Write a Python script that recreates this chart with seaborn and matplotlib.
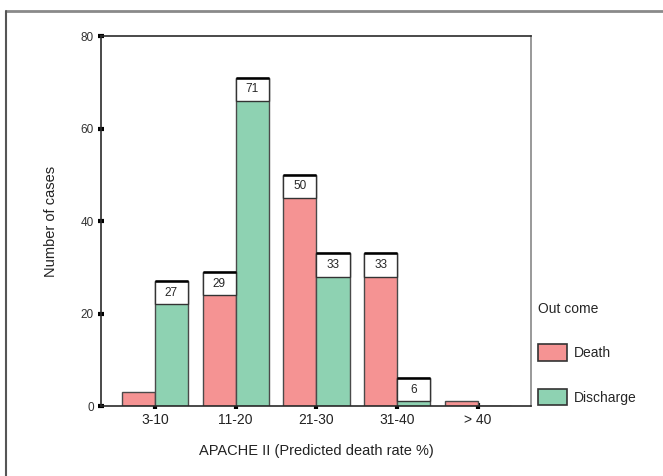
import pandas as pd
import seaborn as sns
import matplotlib.pyplot as plt
from matplotlib.patches import Rectangle
from matplotlib.lines import Line2D

# Values
groups = ['3-10', '11-20', '21-30', '31-40', '> 40']
death = [3, 29, 50, 33, 1]
discharge = [27, 71, 33, 6, 0]

df = pd.DataFrame({
    'group': groups * 2,
    'count': death + discharge,
    'outcome': ['Death'] * len(groups) + ['Discharge'] * len(groups),
})

sns.set_style('white')
plt.rcParams['font.family'] = ['Liberation Sans', 'DejaVu Sans']

fig = plt.figure(figsize=(6.63, 4.76), dpi=100)
ax = fig.add_axes([0.152, 0.147, 0.649, 0.777])

sns.barplot(data=df, x='group', y='count', hue='outcome', order=groups,
            palette={'Death': '#f59393', 'Discharge': '#8ed2b2'},
            saturation=1, width=0.82, edgecolor='#4a4a4a', linewidth=1.0,
            ax=ax)

# SPSS-style value boxes on top of the taller bars
for cont in ax.containers:
    for bar in cont:
        h = bar.get_height()
        if h < 5:
            continue
        x, w = bar.get_x(), bar.get_width()
        ax.add_patch(Rectangle((x, h - 5), w, 5, facecolor='white',
                               edgecolor='#333333', linewidth=1.0, zorder=3))
        ax.plot([x, x + w], [h, h], color='black', lw=1.8, zorder=4,
                solid_capstyle='butt')
        ax.text(x + w / 2, h - 2.5, f'{int(h)}', ha='center', va='center',
                fontsize=8.5, zorder=5)

ax.set_ylim(0, 80)
ax.set_xlim(-0.669, 4.656)
ax.set_yticks([0, 20, 40, 60, 80])
ax.tick_params(axis='both', direction='inout', length=4, width=3,
               color='black', pad=3, left=True, bottom=True)
ax.tick_params(axis='y', labelsize=8.5, labelcolor='#333333')
ax.tick_params(axis='x', labelsize=10, labelcolor='#222222')

for side in ['left', 'bottom', 'top']:
    ax.spines[side].set_color('#2a2a2a')
    ax.spines[side].set_linewidth(1.2)
ax.spines['right'].set_color('#888888')
ax.spines['right'].set_linewidth(1.2)

ax.set_xlabel('APACHE II (Predicted death rate %)', fontsize=10.5,
              color='#222222', labelpad=12)
ax.set_ylabel('Number of cases', fontsize=10.5, color='#222222', labelpad=16)

leg = ax.legend(title='Out come', loc='upper left',
                bbox_to_anchor=(1.0, 0.30), frameon=False,
                labelspacing=2.0, handlelength=2.1, handleheight=1.5,
                handletextpad=0.5, borderaxespad=0.1, fontsize=10,
                title_fontsize=10)
leg._legend_box.align = 'left'
for handle in leg.legend_handles:
    handle.set_edgecolor('#333333')
    handle.set_linewidth(1.2)

# grey outer frame (top and left edges)
fig.add_artist(Line2D([6 / 663, 1], [1 - 11 / 476, 1 - 11 / 476],
                      color='#8a8a8a', lw=2, transform=fig.transFigure))
fig.add_artist(Line2D([6 / 663, 6 / 663], [0, 1 - 11 / 476],
                      color='#555555', lw=1.5, transform=fig.transFigure))

fig.savefig('out.png', dpi=100)
